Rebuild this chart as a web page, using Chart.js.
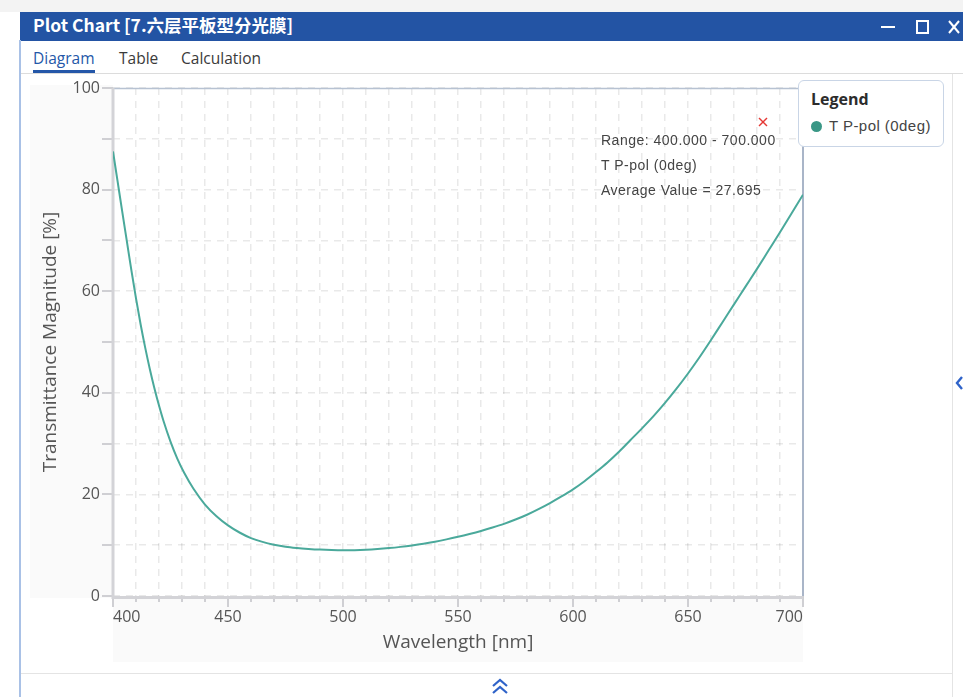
<!DOCTYPE html>
<html>
<head>
<meta charset="utf-8">
<title>Plot Chart</title>
<script src="https://cdn.jsdelivr.net/npm/chart.js@4/dist/chart.umd.min.js"></script>
<style>
  html, body { margin: 0; padding: 0; }
  body { width: 963px; height: 697px; position: relative; overflow: hidden; background: #fff; font-family: 'Open Sans', 'Noto Sans', sans-serif; }
  .abs { position: absolute; }
  #topstrip { left: 0; top: 0; width: 963px; height: 12px; background: #f3f3f3; }
  #titlebar { left: 20px; top: 12px; width: 943px; height: 29px; background: #2354a4; }
  #title { left: 33px; top: 12px; height: 29px; line-height: 29px; color: #fff; font: bold 17.5px 'Noto Sans CJK SC', 'Open Sans', sans-serif; white-space: nowrap; }
  #winborder { left: 19px; top: 40px; width: 2px; height: 657px; background: #a9c1e6; }
  .tab { top: 47px; height: 22px; line-height: 22px; font-size: 15.5px; color: #3a3a3a; }
  #tabline { left: 21px; top: 73px; width: 942px; height: 1px; background: #dcdcdc; }
  #tabunder { left: 33px; top: 70px; width: 62px; height: 3px; background: #2457a8; }
  #rightline { left: 952px; top: 74px; width: 1px; height: 623px; background: #e4e4e4; }
  #bottomline { left: 21px; top: 673px; width: 931px; height: 1px; background: #e4e4e4; }
  #chartbox { left: 20px; top: 75px; width: 930px; height: 598px; }
  #legend { left: 798px; top: 80px; width: 146px; height: 67px; box-sizing: border-box; border: 1.5px solid #c9d5e6; border-radius: 6px; background: #fff; }
  #legend .hd { position: absolute; left: 12px; top: 7px; font: bold 16px 'Open Sans', sans-serif; color: #2c2c2c; }
  #legend .dot { position: absolute; left: 12px; top: 40px; width: 11px; height: 11px; border-radius: 50%; background: #3a9786; }
  #legend .lb { position: absolute; left: 30px; top: 36px; font: 15px 'Liberation Sans', Arial, sans-serif; letter-spacing: 0.45px; color: #444; white-space: nowrap; }
  .note { left: 601px; font: 14px 'Liberation Sans', Arial, sans-serif; letter-spacing: 0.5px; color: #444; white-space: nowrap; }
</style>
</head>
<body>
<div id="topstrip" class="abs"></div>
<div id="titlebar" class="abs"></div>
<div id="title" class="abs">Plot Chart [7.六层平板型分光膜]</div>
<svg class="abs" style="left:870px;top:12px" width="93" height="29">
  <line x1="11" y1="15" x2="25" y2="15" stroke="#fff" stroke-width="2"/>
  <rect x="47" y="9" width="11" height="12" fill="none" stroke="#fff" stroke-width="2"/>
  <line x1="79" y1="9" x2="89" y2="21" stroke="#fff" stroke-width="2"/>
  <line x1="89" y1="9" x2="79" y2="21" stroke="#fff" stroke-width="2"/>
</svg>
<div id="winborder" class="abs"></div>
<div class="abs tab" style="left:33px;color:#2457a8">Diagram</div>
<div class="abs tab" style="left:119px">Table</div>
<div class="abs tab" style="left:181px">Calculation</div>
<div id="tabline" class="abs"></div>
<div id="tabunder" class="abs"></div>
<div id="rightline" class="abs"></div>
<div id="bottomline" class="abs"></div>
<svg class="abs" style="left:490px;top:677px" width="20" height="20">
  <polyline points="3,9 10,3 17,9" fill="none" stroke="#2f63c9" stroke-width="2.2"/>
  <polyline points="3,16 10,10 17,16" fill="none" stroke="#2f63c9" stroke-width="2.2"/>
</svg>
<svg class="abs" style="left:953px;top:374px" width="10" height="18">
  <polyline points="9,3 4,9 9,15" fill="none" stroke="#2f63c9" stroke-width="2.4"/>
</svg>

<div id="chartbox" class="abs"><canvas id="plot" width="930" height="598"></canvas></div>

<div id="legend" class="abs">
  <div class="hd">Legend</div>
  <div class="dot"></div>
  <div class="lb">T P-pol (0deg)</div>
</div>

<svg class="abs" style="left:757px;top:116px" width="12" height="12">
  <line x1="2" y1="2" x2="10" y2="10" stroke="#e53935" stroke-width="1.5"/>
  <line x1="10" y1="2" x2="2" y2="10" stroke="#e53935" stroke-width="1.5"/>
</svg>
<div class="abs note" style="top:132px">Range: 400.000 - 700.000</div>
<div class="abs note" style="top:157px">T P-pol (0deg)</div>
<div class="abs note" style="top:182px">Average Value = 27.695</div>

<script>
// Wavelength samples (nm) and transmittance (%) of the P-polarised beam at 0 deg
const wavelengths = [
  400, 402, 404, 406, 408, 410, 412, 414, 416, 418, 420, 422, 425, 428, 431, 435,
  440, 445, 450, 455, 460, 465, 470, 475, 480, 485, 490, 495, 500, 505, 510, 515,
  520, 525, 530, 535, 540, 545, 550, 555, 560, 565, 570, 575, 580, 585, 590, 595,
  600, 605, 610, 615, 620, 625, 630, 635, 640, 645, 650, 655, 660, 665, 670, 675,
  680, 685, 690, 695, 700
];
const transmittance = [
  87.5, 81.6, 75.7, 69.9, 64.1, 58.6, 53.5, 48.9, 44.7, 40.9, 37.5, 34.4, 30.4, 27.0, 24.2, 21.1,
  18.0, 15.7, 13.9, 12.5, 11.4, 10.65, 10.1, 9.7, 9.45, 9.27, 9.13, 9.04, 9.0, 9.02, 9.1, 9.24,
  9.43, 9.67, 9.96, 10.3, 10.7, 11.15, 11.65, 12.2, 12.8, 13.47, 14.2, 15.05, 16.0, 17.1, 18.3, 19.6,
  21.0, 22.6, 24.4, 26.3, 28.4, 30.7, 33.0, 35.4, 38.0, 40.8, 43.8, 47.0, 50.4, 53.9, 57.4, 60.9,
  64.4, 68.0, 71.6, 75.3, 79.0
];
const seriesName = 'T P-pol (0deg)';
const xLabelStep = 50;   // labelled wavelength ticks
const yLabelStep = 20;   // labelled transmittance ticks

const points = wavelengths.map((w, i) => ({ x: w, y: transmittance[i] }));

const FONT = "'Open Sans', 'Noto Sans', sans-serif";
const TICK_COLOR = '#555';

// Soft panel behind the axis label areas, axis frame and tick marks
const framePlugin = {
  id: 'frame',
  beforeDraw(chart) {
    const { ctx, chartArea: a, scales: { x, y } } = chart;
    ctx.save();
    ctx.fillStyle = '#fafafa';
    ctx.fillRect(y.left, a.top - 3, a.left - y.left, a.bottom - a.top + 5);
    ctx.fillRect(a.left, a.bottom, a.right - a.left, x.bottom - a.bottom);
    ctx.fillStyle = '#fff';
    ctx.fillRect(a.left, a.top, a.right - a.left, a.bottom - a.top);
    ctx.restore();
  },
  beforeDatasetsDraw(chart) {
    const { ctx, chartArea: a, scales: { x, y } } = chart;
    ctx.save();
    // top and right border
    ctx.strokeStyle = '#b7c2d2';
    ctx.lineWidth = 1.5;
    ctx.beginPath();
    ctx.moveTo(a.left, a.top + 0.5); ctx.lineTo(a.right, a.top + 0.5);
    ctx.stroke();
    ctx.strokeStyle = '#a9b5c8';
    ctx.lineWidth = 2;
    ctx.beginPath();
    ctx.moveTo(a.right, a.top); ctx.lineTo(a.right, a.bottom + 10);
    ctx.stroke();
    // tick marks
    ctx.strokeStyle = '#cfcfd3';
    ctx.lineWidth = 2;
    ctx.beginPath();
    for (let v = y.min; v <= y.max; v += 10) {
      const py = Math.round(y.getPixelForValue(v));
      ctx.moveTo(a.left - 11, py); ctx.lineTo(a.left, py);
    }
    for (let v = x.min; v <= x.max; v += 10) {
      const px = Math.round(x.getPixelForValue(v));
      const len = v % xLabelStep === 0 ? 11 : 6;
      ctx.moveTo(px, a.bottom); ctx.lineTo(px, a.bottom + len);
    }
    ctx.stroke();
    // left and bottom axis lines
    ctx.strokeStyle = '#d3d3d7';
    ctx.lineWidth = 3;
    ctx.beginPath();
    ctx.moveTo(a.left, a.top); ctx.lineTo(a.left, a.bottom + 1.5);
    ctx.lineTo(a.right, a.bottom + 1.5);
    ctx.stroke();
    ctx.restore();
  }
};

new Chart(document.getElementById('plot'), {
  type: 'line',
  data: {
    datasets: [{
      label: seriesName,
      data: points,
      borderColor: '#4aa99b',
      borderWidth: 2,
      pointRadius: 0,
      cubicInterpolationMode: 'monotone',
      fill: false
    }]
  },
  options: {
    responsive: false,
    animation: false,
    events: [],
    layout: { padding: { left: 10, top: 13, right: 147, bottom: 11 } },
    plugins: { legend: { display: false }, tooltip: { enabled: false } },
    scales: {
      x: {
        type: 'linear',
        min: 400,
        max: 700,
        afterFit(scale) {
          scale.height = 66;
          scale.paddingLeft = 0;
          scale.paddingRight = 0;
        },
        ticks: {
          stepSize: 10,
          autoSkip: false,
          maxRotation: 0,
          align: 'inner',
          padding: 12,
          color: TICK_COLOR,
          font: { family: FONT, size: 16 },
          callback: v => (v % xLabelStep === 0 ? String(v) : '')
        },
        grid: { color: 'rgba(0,0,0,0.085)', lineWidth: 1.5, drawTicks: false },
        border: { display: false, dash: [7, 6] },
        title: {
          display: true,
          text: 'Wavelength [nm]',
          color: TICK_COLOR,
          font: { family: FONT, size: 19 },
          padding: { top: 0, bottom: 8 }
        }
      },
      y: {
        min: 0,
        max: 100,
        afterFit(scale) {
          scale.width = 83;
          scale.paddingTop = 0;
          scale.paddingBottom = 0;
        },
        ticks: {
          stepSize: 10,
          autoSkip: false,
          padding: 13,
          color: TICK_COLOR,
          font: { family: FONT, size: 16 },
          callback: v => (v % yLabelStep === 0 ? String(v) : '')
        },
        grid: { color: 'rgba(0,0,0,0.085)', lineWidth: 1.5, drawTicks: false },
        border: { display: false, dash: [7, 6] },
        title: {
          display: true,
          text: 'Transmittance Magnitude [%]',
          color: TICK_COLOR,
          font: { family: FONT, size: 19 },
          padding: { top: 9, bottom: 0 }
        }
      }
    }
  },
  plugins: [framePlugin]
});
</script>
</body>
</html>
